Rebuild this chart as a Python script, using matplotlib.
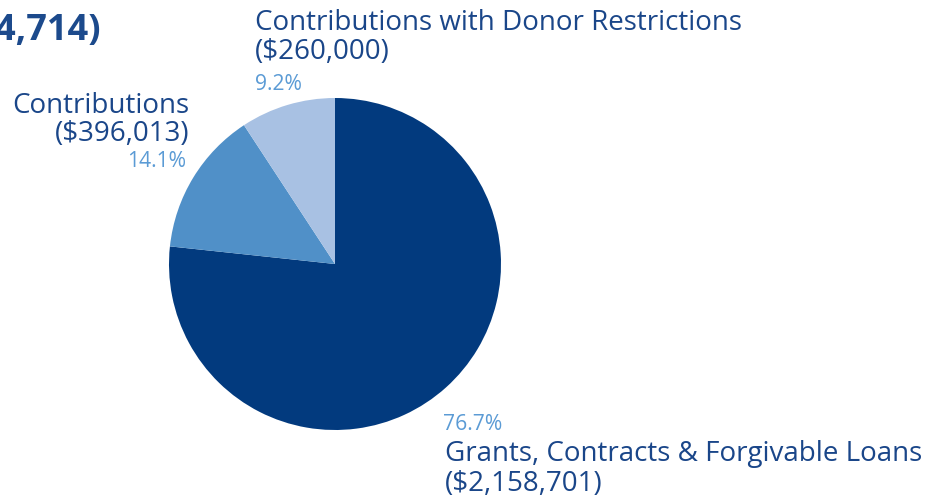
import matplotlib.pyplot as plt

# revenue breakdown
labels = ['Grants, Contracts & Forgivable Loans', 'Contributions', 'Contributions with Donor Restrictions']
amounts = [2158701, 396013, 260000]
pcts = ['76.7%', '14.1%', '9.2%']
colors = ['#023a7e', '#5090c8', '#a8c1e3']
total = sum(amounts)

W, H = 930, 501
plt.rcParams['font.family'] = ['Open Sans', 'DejaVu Sans']
label_col = '#1a4689'
pct_col = '#5b9bd5'
lab_fs = 20
pct_fs = 15.2

fig = plt.figure(figsize=(W / 100, H / 100), dpi=100)

# pie centred at (335, 264) px, radius 166 px
cx, cy, r = 335, 264, 166
ax = fig.add_axes([(cx - r) / W, (H - cy - r) / H, 2 * r / W, 2 * r / H])
ax.pie(amounts, colors=colors, startangle=90, counterclock=False, radius=1,
       wedgeprops=dict(linewidth=0))
ax.set_xlim(-1, 1)
ax.set_ylim(-1, 1)
ax.set_aspect('equal')
ax.axis('off')


def px_text(x, y, s, **kw):
    fig.text(x / W, 1 - y / H, s, va='baseline', **kw)


# title, cut off on the left like the original
px_text(101, 40, 'Total Revenue (${:,})'.format(total), ha='right',
        fontsize=26, fontweight='bold', color='#1c4a8c')

# donor restrictions
px_text(255, 30, labels[2], ha='left', fontsize=lab_fs, color=label_col)
px_text(255, 59, '(${:,})'.format(amounts[2]), ha='left', fontsize=lab_fs, color=label_col)
px_text(255, 90, pcts[2], ha='left', fontsize=pct_fs, color=pct_col)

# contributions
px_text(189, 113, labels[1], ha='right', fontsize=lab_fs, color=label_col)
px_text(189, 141, '(${:,})'.format(amounts[1]), ha='right', fontsize=lab_fs, color=label_col)
px_text(186, 167, pcts[1], ha='right', fontsize=pct_fs, color=pct_col)

# grants
px_text(443, 430, pcts[0], ha='left', fontsize=pct_fs, color=pct_col)
px_text(445, 461, labels[0], ha='left', fontsize=lab_fs, color=label_col)
px_text(445, 491, '(${:,})'.format(amounts[0]), ha='left', fontsize=lab_fs, color=label_col)

fig.savefig('out.png', dpi=100)
